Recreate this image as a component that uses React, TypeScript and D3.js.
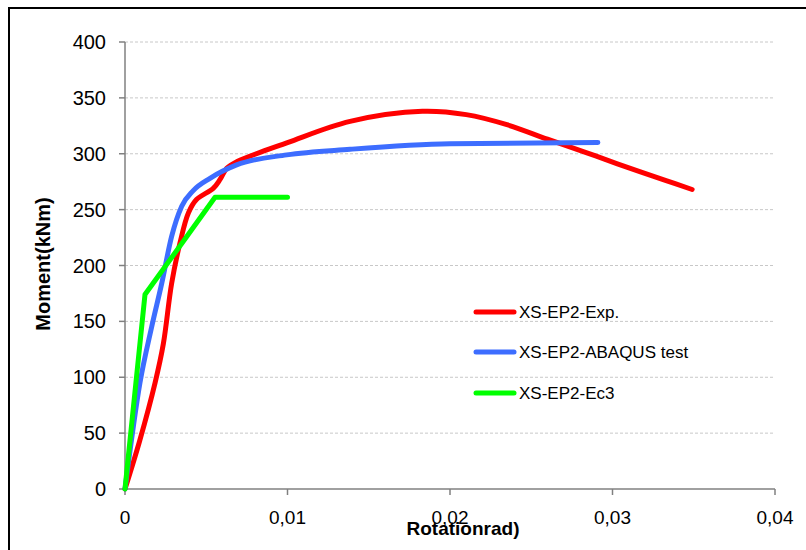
import React from "react";
import * as d3 from "d3";

const expRot = [0, 0.0009, 0.00185, 0.00236, 0.00287, 0.00338, 0.0039, 0.0044, 0.00543, 0.00585, 0.00626, 0.0069, 0.01, 0.01385, 0.0183, 0.021, 0.0235, 0.026, 0.0282, 0.0303, 0.0333, 0.0349];
const expMom = [0, 43, 95, 130, 184, 220, 247, 259, 269, 277, 287, 293, 310, 329, 338, 335, 326, 313, 302, 291, 276, 268];

const abqRot = [0, 0.00092, 0.00164, 0.00226, 0.00287, 0.00349, 0.0042, 0.00523, 0.00687, 0.00995, 0.01385, 0.02, 0.0291];
const abqMom = [0, 95, 145, 184, 226, 253, 267, 278, 290, 299, 304, 309, 310];

const ec3Rot = [0, 0.00123, 0.00554, 0.01];
const ec3Mom = [0, 174, 261, 261];

const xTicks = [0, 0.01, 0.02, 0.03, 0.04];
const xTickLabels = ["0", "0,01", "0,02", "0,03", "0,04"];
const yTicks = [0, 50, 100, 150, 200, 250, 300, 350, 400];

const seriesNames = ["XS-EP2-Exp.", "XS-EP2-ABAQUS test", "XS-EP2-Ec3"];
const seriesColors = ["#FF0000", "#3D6DFF", "#00FF00"];

export default function App() {
  const x = d3.scaleLinear().domain([0, 0.04]).range([125, 775]);
  const y = d3.scaleLinear().domain([0, 400]).range([489, 42]);
  const font = "'Liberation Sans', Arial, sans-serif";

  const mk = (rs: number[], ms: number[], curve: d3.CurveFactory) =>
    d3
      .line<number>()
      .x((_, i) => x(rs[i]))
      .y((_, i) => y(ms[i]))
      .curve(curve)(rs) as string;

  const paths = [
    mk(expRot, expMom, d3.curveCatmullRom.alpha(0.5)),
    mk(abqRot, abqMom, d3.curveMonotoneX),
    mk(ec3Rot, ec3Mom, d3.curveLinear),
  ];

  const legendY = [312, 352, 393];

  return (
    <svg width={806} height={550} style={{ position: "absolute", left: 0, top: 0 }}>
      <rect x={0} y={0} width={806} height={550} fill="#fff" />
      <path d="M9,550 L9,8 L806,8" fill="none" stroke="#000" strokeWidth={2} />
      {yTicks.filter((t) => t > 0).map((t) => (
        <line key={t} x1={x(0)} x2={x(0.04)} y1={y(t)} y2={y(t)} stroke="#c8c8c8" strokeWidth={1} strokeDasharray="3,2" />
      ))}
      <line x1={x(0)} x2={x(0)} y1={y(0)} y2={y(400)} stroke="#808080" strokeWidth={1.5} />
      <line x1={x(0)} x2={x(0.04)} y1={y(0)} y2={y(0)} stroke="#808080" strokeWidth={1.5} />
      {yTicks.map((t) => (
        <g key={t}>
          <line x1={x(0) - 6} x2={x(0)} y1={y(t)} y2={y(t)} stroke="#808080" strokeWidth={1.5} />
          <text x={106} y={y(t) + 7} textAnchor="end" fontFamily={font} fontSize={20} fill="#000">
            {t}
          </text>
        </g>
      ))}
      {xTicks.map((t, i) => (
        <g key={t}>
          <line x1={x(t)} x2={x(t)} y1={y(0)} y2={y(0) + 6} stroke="#808080" strokeWidth={1.5} />
          <text x={x(t)} y={524} textAnchor="middle" fontFamily={font} fontSize={19} fill="#000">
            {xTickLabels[i]}
          </text>
        </g>
      ))}
      <text x={463} y={535} textAnchor="middle" fontFamily={font} fontSize={19} fontWeight="bold" fill="#000">
        Rotationrad)
      </text>
      <text
        transform="translate(50,264) rotate(-90)"
        textAnchor="middle"
        fontFamily={font}
        fontSize={20}
        fontWeight="bold"
        fill="#000"
      >
        Moment(kNm)
      </text>
      {paths.map((d, i) => (
        <path key={i} d={d} fill="none" stroke={seriesColors[i]} strokeWidth={5} strokeLinecap="round" strokeLinejoin="round" />
      ))}
      {seriesNames.map((n, i) => (
        <g key={n}>
          <line x1={476} x2={514} y1={legendY[i]} y2={legendY[i]} stroke={seriesColors[i]} strokeWidth={5} strokeLinecap="round" />
          <text x={519} y={legendY[i] + 6} fontFamily={font} fontSize={17} fill="#000">
            {n}
          </text>
        </g>
      ))}
    </svg>
  );
}
